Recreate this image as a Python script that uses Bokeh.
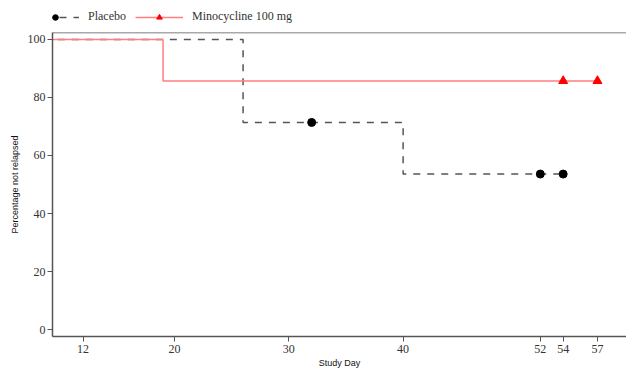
from bokeh.plotting import figure
from bokeh.layouts import column
from bokeh.models import Range1d, FixedTicker, Legend, LegendItem, Span
from bokeh.embed import file_html
from bokeh.resources import INLINE

# Data
placebo_t = [0, 26, 40, 54]
placebo_s = [100, 71.4, 53.6, 53.6]
placebo_cens_t = [32, 52, 54]
placebo_cens_s = [71.4, 53.6, 53.6]

mino_t = [0, 19, 57]
mino_s = [100, 85.7, 85.7]
mino_cens_t = [54, 57]
mino_cens_s = [85.7, 85.7]

x_ticks = [12, 20, 30, 40, 52, 54, 57]
y_ticks = [0, 20, 40, 60, 80, 100]

placebo_style = dict(line_color="#555555", line_width=1.5, line_dash="7 7")
mino_style = dict(line_color="#ff7f7f", line_width=1.5)

p = figure(width=626, height=342, output_backend="svg", toolbar_location=None,
           x_range=Range1d(9.33, 59.54), y_range=Range1d(-2.4, 102.4),
           min_border_left=52, min_border_right=0, min_border_top=2, min_border_bottom=36)
p.outline_line_color = None
p.xgrid.visible = False
p.ygrid.visible = False

for ax in (p.xaxis[0], p.yaxis[0]):
    ax.axis_line_color = "#555555"
    ax.axis_line_width = 1.5
    ax.major_tick_line_color = "#555555"
    ax.major_tick_line_width = 1
    ax.major_tick_out = 5
    ax.major_tick_in = 0
    ax.minor_tick_line_color = None
    ax.major_label_text_font = "Liberation Serif"
    ax.major_label_text_font_size = "12px"
    ax.major_label_text_color = "#333333"
    ax.axis_label_text_font = "Liberation Sans"
    ax.axis_label_text_font_size = "9px"
    ax.axis_label_text_font_style = "normal"
    ax.axis_label_text_color = "#111111"

p.xaxis.ticker = FixedTicker(ticks=x_ticks)
p.yaxis.ticker = FixedTicker(ticks=y_ticks)
p.xaxis.axis_label = "Study Day"
p.yaxis.axis_label = "Percentage not relapsed"
p.xaxis.major_label_standoff = 3
p.xaxis.axis_label_standoff = 2
p.yaxis.major_label_standoff = 2
p.yaxis.axis_label_standoff = 5

p.add_layout(Span(location=102.4, dimension="width", line_color="#555555", line_width=1.5))

p.step(placebo_t, placebo_s, mode="after", **placebo_style)
p.scatter(placebo_cens_t, placebo_cens_s, marker="circle", size=8, color="black")
p.step(mino_t, mino_s, mode="after", **mino_style)
p.scatter(mino_cens_t, mino_cens_s, marker="triangle", size=9, color="red")

# Legend strip above the plot (proxy renderers lie outside its visible range)
lf = figure(width=626, height=30, output_backend="svg", toolbar_location=None,
            x_range=Range1d(0, 1), y_range=Range1d(1000, 1001),
            x_axis_location=None, y_axis_location=None,
            min_border_left=0, min_border_right=0, min_border_top=0, min_border_bottom=0)
lf.outline_line_color = None
lf.xgrid.visible = False
lf.ygrid.visible = False
pl = lf.line(placebo_t, placebo_s, **placebo_style)
pc = lf.scatter(placebo_cens_t, placebo_cens_s, marker="circle", size=8, color="black")
ml = lf.line(mino_t, mino_s, **mino_style)
mc = lf.scatter(mino_cens_t, mino_cens_s, marker="triangle", size=9, color="red")

legend = Legend(items=[LegendItem(label="Placebo", renderers=[pl, pc]),
                       LegendItem(label="Minocycline 100 mg", renderers=[ml, mc])],
                orientation="horizontal", location=(-21, 6),
                background_fill_alpha=0, border_line_color=None,
                label_text_font="Liberation Serif", label_text_font_size="12px",
                label_text_color="#333333",
                glyph_width=48, glyph_height=14, spacing=9, padding=4, margin=0,
                label_standoff=9)
lf.add_layout(legend, "center")

layout = column(lf, p, spacing=0)
open("out.html", "w").write(file_html(layout, INLINE))
